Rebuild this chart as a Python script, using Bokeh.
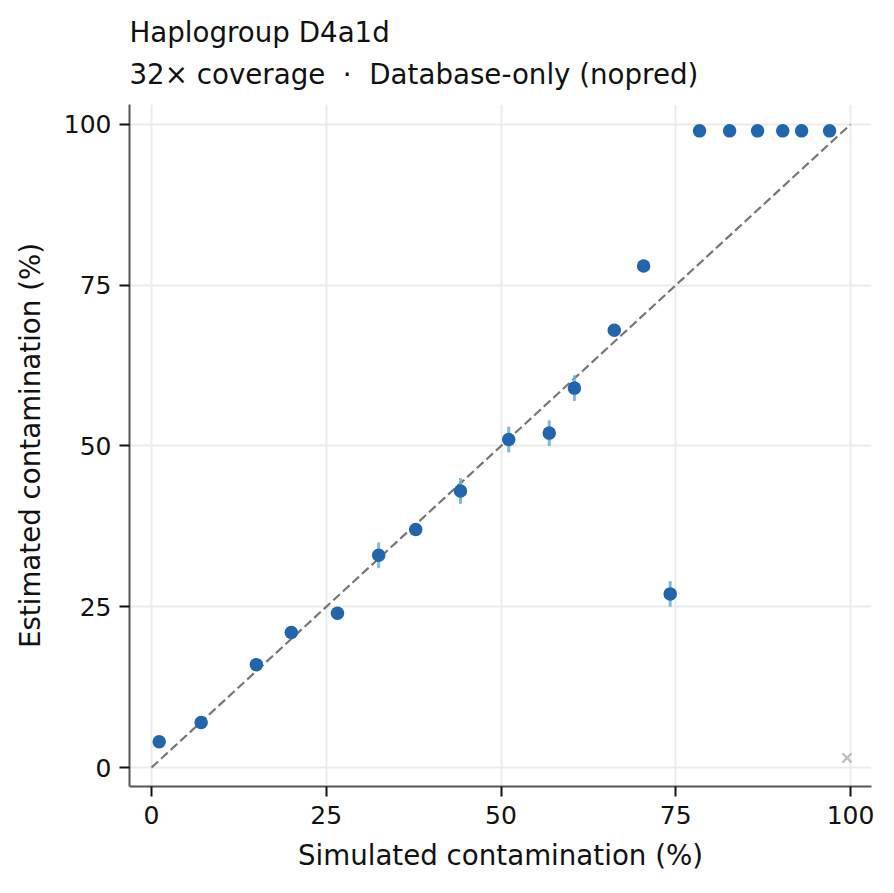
from bokeh.plotting import figure
from bokeh.models import Title, FixedTicker, Range1d
from bokeh.embed import file_html
from bokeh.resources import INLINE

# Data
simulated = [1.1, 7.1, 15.0, 20.0, 26.6, 32.5, 37.8, 44.2, 51.1, 56.9, 60.5, 66.2, 70.4, 74.2,
             78.4, 82.7, 86.7, 90.3, 93.0, 97.0]
estimated = [4.0, 7.0, 16.0, 21.0, 24.0, 33.0, 37.0, 43.0, 51.0, 52.0, 59.0, 68.0, 78.0, 27.0,
             99.0, 99.0, 99.0, 99.0, 99.0, 99.0]
err_lo = [0.5, 0.5, 0.5, 0.5, 0.5, 2.0, 0.5, 2.0, 2.0, 2.0, 2.0, 0.5, 0.5, 2.0,
          0.0, 0.0, 0.0, 0.0, 0.0, 0.0]
err_hi = [0.5, 0.5, 0.5, 0.5, 0.5, 2.0, 0.5, 2.0, 2.0, 2.0, 2.0, 0.5, 0.5, 2.0,
          0.0, 0.0, 0.0, 0.0, 0.0, 0.0]
failed_x = [99.5]
failed_y = [1.5]
diag = [0, 100]
ticks = [0, 25, 50, 75, 100]

FONT = "DejaVu Sans"

p = figure(width=886, height=885, frame_width=742, frame_height=682,
           output_backend="svg", toolbar_location=None, title=None,
           x_range=Range1d(-3.15, 103.0), y_range=Range1d(-2.95, 103.1),
           min_border_left=129, min_border_right=15, min_border_top=104, min_border_bottom=99)
p.outline_line_color = None
p.background_fill_color = "white"
p.border_fill_color = "white"

spacer = Title(text=" ", align="left", text_font=FONT, text_font_size="1px",
               text_color="white", standoff=4)
sub = Title(text="32× coverage \u00a0·\u00a0 Database-only (nopred)", align="left",
            text_font=FONT, text_font_size="27.7px", text_font_style="normal",
            text_color="#111111", standoff=14)
main = Title(text="Haplogroup D4a1d", align="left",
             text_font=FONT, text_font_size="27.7px", text_font_style="normal",
             text_color="#111111", standoff=0)
p.add_layout(spacer, "above")
p.add_layout(sub, "above")
p.add_layout(main, "above")

# grid
for g in (p.xgrid, p.ygrid):
    g.grid_line_color = "#ebebeb"
    g.grid_line_width = 2
p.xgrid.ticker = FixedTicker(ticks=ticks)
p.ygrid.ticker = FixedTicker(ticks=ticks)

for ax in (p.xaxis, p.yaxis):
    ax.ticker = FixedTicker(ticks=ticks)
    ax.axis_line_color = "#555555"
    ax.axis_line_width = 2
    ax.major_tick_line_color = "#111111"
    ax.major_tick_line_width = 2
    ax.major_tick_out = 10
    ax.major_tick_in = 0
    ax.minor_tick_line_color = None
    ax.major_label_text_font = FONT
    ax.major_label_text_font_size = "25px"
    ax.major_label_text_color = "#111111"
    ax.axis_label_text_font = FONT
    ax.axis_label_text_font_size = "27.7px"
    ax.axis_label_text_font_style = "normal"
    ax.axis_label_text_color = "#111111"
p.xaxis.axis_label = "Simulated contamination (%)"
p.yaxis.axis_label = "Estimated contamination (%)"
p.xaxis.major_label_standoff = 9
p.yaxis.major_label_standoff = 8
p.xaxis.axis_label_standoff = 12
p.yaxis.axis_label_standoff = 14

# identity line
p.line(diag, diag, line_color="#777777", line_width=2.2, line_dash="9 4")

# error bars
lo = [e - l for e, l in zip(estimated, err_lo)]
hi = [e + h for e, h in zip(estimated, err_hi)]
p.segment(x0=simulated, y0=lo, x1=simulated, y1=hi, line_color="#6baed6",
          line_width=3, line_alpha=0.85)

# points
p.scatter(simulated, estimated, size=13.5, fill_color="#2166ac", line_color="#2166ac",
          line_width=0)

# failed run
p.scatter(failed_x, failed_y, marker="x", size=13, line_color="#bbbbbb", line_width=2.2)

open("out.html", "w").write(file_html(p, INLINE))
